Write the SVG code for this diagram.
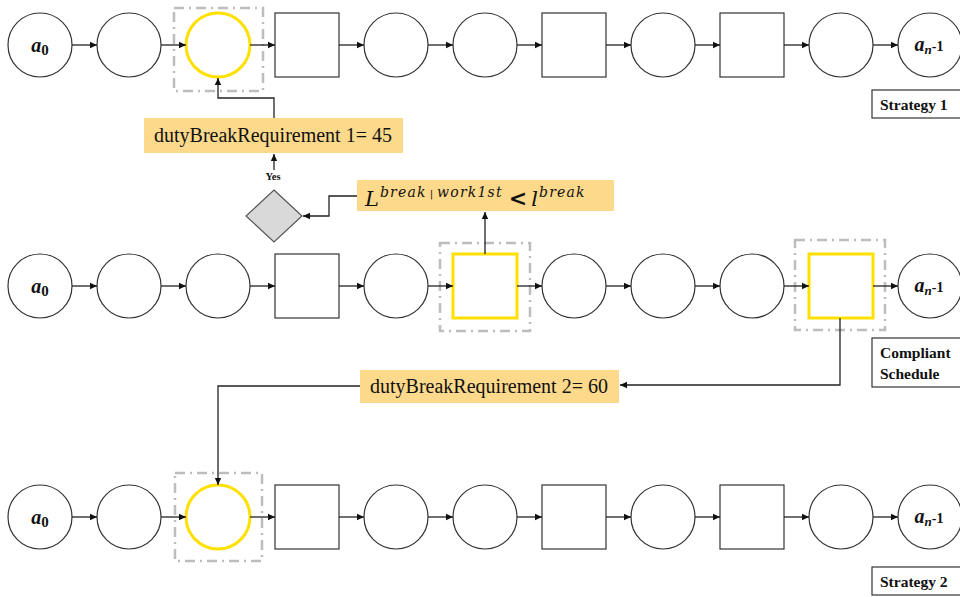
<svg xmlns="http://www.w3.org/2000/svg" width="960" height="597" viewBox="0 0 960 597">
<defs>
<marker id="ah" markerUnits="userSpaceOnUse" markerWidth="8" markerHeight="8" refX="7" refY="4" orient="auto">
<path d="M0,0.8 L7,4 L0,7.2 Z" fill="#111"/>
</marker>
<style>
.n{fill:#fff;stroke:#333;stroke-width:1.2}
.y{fill:#fff;stroke:#FFE000;stroke-width:3}
.hl{fill:none;stroke:#BDBDBD;stroke-width:2.5;stroke-dasharray:10,5,2,5}
.c{fill:none;stroke:#222;stroke-width:1.3;marker-end:url(#ah)}
.lbl{fill:#FDD98C}
.t{font-family:"Liberation Serif","Times New Roman",serif;fill:#111}
.nl{font-family:"Liberation Serif","Times New Roman",serif;font-weight:bold;fill:#111;font-size:20px}
.st{font-family:"Liberation Serif","Times New Roman",serif;font-weight:bold;fill:#111;font-size:15.5px}
.box{fill:#fff;stroke:#333;stroke-width:1.2}
.m{font-family:"DejaVu Serif",serif;font-style:italic;fill:#111}
</style>
</defs>

<!-- highlight frames -->
<g id="frames">
<rect class="hl" x="174" y="8" width="89" height="83"/>
<rect class="hl" x="440" y="243" width="90" height="88"/>
<rect class="hl" x="795" y="240" width="90" height="90"/>
<rect class="hl" x="175" y="473" width="87" height="88"/>
</g>

<!-- Top row: Strategy 1 -->
<g id="s1-a0"><circle class="n" cx="40" cy="45" r="32"/><text class="nl" x="40" y="52" text-anchor="middle"><tspan font-style="italic">a</tspan><tspan font-size="15" dy="3">0</tspan></text></g>
<g id="s1-n1"><circle class="n" cx="129" cy="45" r="32"/></g>
<g id="s1-n2"><circle class="y" cx="218" cy="45" r="32"/></g>
<g id="s1-n3"><rect class="n" x="275" y="13" width="64" height="64"/></g>
<g id="s1-n4"><circle class="n" cx="396" cy="45" r="32"/></g>
<g id="s1-n5"><circle class="n" cx="485" cy="45" r="32"/></g>
<g id="s1-n6"><rect class="n" x="542" y="13" width="64" height="64"/></g>
<g id="s1-n7"><circle class="n" cx="663" cy="45" r="32"/></g>
<g id="s1-n8"><rect class="n" x="720" y="13" width="64" height="64"/></g>
<g id="s1-n9"><circle class="n" cx="841" cy="45" r="32"/></g>
<g id="s1-an"><circle class="n" cx="930" cy="45" r="32"/><text class="nl" x="929" y="51" text-anchor="middle" font-size="17"><tspan font-style="italic">a</tspan><tspan font-style="italic" font-size="13" dy="3">n</tspan><tspan font-size="14" dy="-3">-1</tspan></text></g>
<g id="strategy1"><rect class="box" x="872" y="90" width="95" height="28"/><text class="st" x="880" y="110">Strategy 1</text></g>

<!-- Middle row: Compliant schedule -->
<g id="cs-a0"><circle class="n" cx="40" cy="286" r="32"/><text class="nl" x="40" y="293" text-anchor="middle"><tspan font-style="italic">a</tspan><tspan font-size="15" dy="3">0</tspan></text></g>
<g id="cs-n1"><circle class="n" cx="129" cy="286" r="32"/></g>
<g id="cs-n2"><circle class="n" cx="218" cy="286" r="32"/></g>
<g id="cs-n3"><rect class="n" x="275" y="254" width="64" height="64"/></g>
<g id="cs-n4"><circle class="n" cx="396" cy="286" r="32"/></g>
<g id="cs-n5"><rect class="y" x="453" y="254" width="64" height="64"/></g>
<g id="cs-n6"><circle class="n" cx="574" cy="286" r="32"/></g>
<g id="cs-n7"><circle class="n" cx="663" cy="286" r="32"/></g>
<g id="cs-n8"><circle class="n" cx="752" cy="286" r="32"/></g>
<g id="cs-n9"><rect class="y" x="809" y="254" width="64" height="64"/></g>
<g id="cs-an"><circle class="n" cx="930" cy="286" r="32"/><text class="nl" x="929" y="292" text-anchor="middle" font-size="17"><tspan font-style="italic">a</tspan><tspan font-style="italic" font-size="13" dy="3">n</tspan><tspan font-size="14" dy="-3">-1</tspan></text></g>
<g id="compliant"><rect class="box" x="872" y="338" width="95" height="49"/><text class="st" x="880" y="358">Compliant</text><text class="st" x="880" y="379">Schedule</text></g>

<!-- Bottom row: Strategy 2 -->
<g id="s2-a0"><circle class="n" cx="40" cy="517" r="32"/><text class="nl" x="40" y="524" text-anchor="middle"><tspan font-style="italic">a</tspan><tspan font-size="15" dy="3">0</tspan></text></g>
<g id="s2-n1"><circle class="n" cx="129" cy="517" r="32"/></g>
<g id="s2-n2"><circle class="y" cx="218" cy="517" r="32"/></g>
<g id="s2-n3"><rect class="n" x="275" y="485" width="64" height="64"/></g>
<g id="s2-n4"><circle class="n" cx="396" cy="517" r="32"/></g>
<g id="s2-n5"><circle class="n" cx="485" cy="517" r="32"/></g>
<g id="s2-n6"><rect class="n" x="542" y="485" width="64" height="64"/></g>
<g id="s2-n7"><circle class="n" cx="663" cy="517" r="32"/></g>
<g id="s2-n8"><rect class="n" x="720" y="485" width="64" height="64"/></g>
<g id="s2-n9"><circle class="n" cx="841" cy="517" r="32"/></g>
<g id="s2-an"><circle class="n" cx="930" cy="517" r="32"/><text class="nl" x="929" y="523" text-anchor="middle" font-size="17"><tspan font-style="italic">a</tspan><tspan font-style="italic" font-size="13" dy="3">n</tspan><tspan font-size="14" dy="-3">-1</tspan></text></g>
<g id="strategy2"><rect class="box" x="872" y="567" width="95" height="28"/><text class="st" x="880" y="587">Strategy 2</text></g>

<!-- Labels and decision -->
<g id="req1"><rect class="lbl" x="144" y="118" width="259" height="35"/><text class="t" x="273" y="142" font-size="20" text-anchor="middle" font-family="Liberation Serif, serif">dutyBreakRequirement 1= 45</text></g>
<g id="cond"><rect class="lbl" x="357" y="180" width="257" height="31"/><text class="m" x="365" y="206" font-size="21">L<tspan font-size="14" dy="-9" dx="1" letter-spacing="1.2">break</tspan><tspan font-size="10" font-style="normal" dx="3">|</tspan><tspan font-size="14" dx="4" letter-spacing="1.2">work1st</tspan><tspan font-size="22" font-style="normal" font-weight="bold" dy="9" dx="6">&lt;</tspan><tspan font-size="21" dx="4">l</tspan><tspan font-size="14" dy="-9" dx="1" letter-spacing="1.2">break</tspan></text></g>
<g id="decision"><polygon points="274,190 302,216 274,242 246,216" fill="#D9D9D9" stroke="#555" stroke-width="1.2"/></g>
<g id="yes"><text class="t" x="273" y="180" font-size="10.5" font-weight="bold" text-anchor="middle">Yes</text></g>
<g id="req2"><rect class="lbl" x="360" y="370" width="259" height="33"/><text class="t" x="489" y="393" font-size="20" text-anchor="middle" font-family="Liberation Serif, serif">dutyBreakRequirement 2= 60</text></g>

<!-- connectors -->
<g id="connectors">
<path class="c" d="M72,45H97"/><path class="c" d="M161,45H186"/><path class="c" d="M250,45H275"/><path class="c" d="M339,45H364"/><path class="c" d="M428,45H453"/><path class="c" d="M517,45H542"/><path class="c" d="M606,45H631"/><path class="c" d="M695,45H720"/><path class="c" d="M784,45H809"/><path class="c" d="M873,45H898"/>
<path class="c" d="M72,286H97"/><path class="c" d="M161,286H186"/><path class="c" d="M250,286H275"/><path class="c" d="M339,286H364"/><path class="c" d="M428,286H453"/><path class="c" d="M517,286H542"/><path class="c" d="M606,286H631"/><path class="c" d="M695,286H720"/><path class="c" d="M784,286H809"/><path class="c" d="M873,286H898"/>
<path class="c" d="M72,517H97"/><path class="c" d="M161,517H186"/><path class="c" d="M250,517H275"/><path class="c" d="M339,517H364"/><path class="c" d="M428,517H453"/><path class="c" d="M517,517H542"/><path class="c" d="M606,517H631"/><path class="c" d="M695,517H720"/><path class="c" d="M784,517H809"/><path class="c" d="M873,517H898"/>
<path class="c" d="M274,118V98H218V78"/>
<path class="c" d="M274,170V154"/>
<path class="c" d="M357,196H329V216H303"/>
<path class="c" d="M485,254V212"/>
<path class="c" d="M840,318V385H620"/>
<path class="c" d="M360,386H218V485"/>
</g>
</svg>
